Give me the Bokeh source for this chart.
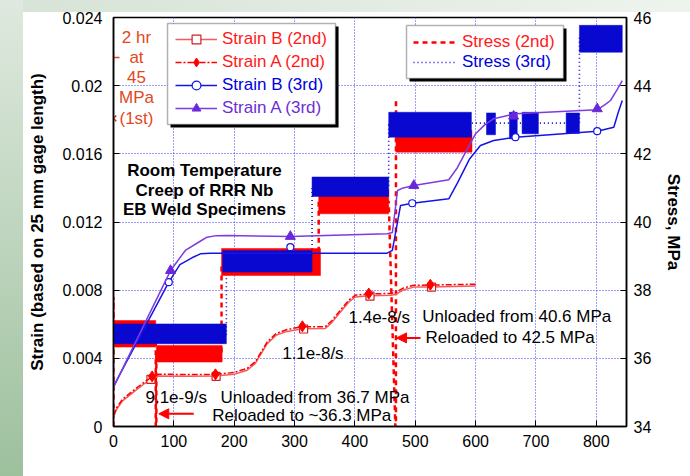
from bokeh.plotting import figure
from bokeh.models import (Range1d, LinearAxis, FixedTicker, CustomJSTickFormatter, Legend,
                          LegendItem, BoxAnnotation, Label, Arrow, NormalHead)
from bokeh.embed import file_html
from bokeh.resources import INLINE

# ---------------- data ----------------
time_ticks = [0, 100, 200, 300, 400, 500, 600, 700, 800]
strain_ticks = [0, 0.004, 0.008, 0.012, 0.016, 0.02, 0.024]
stress_ticks = [34, 36, 38, 40, 42, 44, 46]

# Strain A (2nd) - red dash-dot with filled diamonds
strainA2_t = [0, 5, 15, 33.6, 50, 64, 75, 120, 169, 200, 221.5, 235, 254.7, 270, 287.8, 312.7,
              351, 362, 376, 390, 401, 423, 460, 467, 480, 497.6, 525, 600]
strainA2_s = [0.00065, 0.0011, 0.0016, 0.00213, 0.00258, 0.00292, 0.00307, 0.00305, 0.00306,
              0.00317, 0.00341, 0.0038, 0.00497, 0.00547, 0.00569, 0.00586, 0.00586, 0.00622,
              0.00683, 0.00742, 0.00771, 0.00778, 0.00781, 0.00785, 0.00812, 0.00829, 0.0083, 0.00835]
strainA2_mt = [64, 169, 313, 423, 525]
strainA2_ms = [0.00294, 0.00306, 0.00588, 0.0078, 0.00832]

# Strain B (2nd) - light red solid with open squares
strainB2_t = [0, 5, 15, 33.6, 50, 64, 75, 120, 169, 200, 221.5, 235, 254.7, 270, 287.8, 312.7,
              351, 362, 376, 390, 401, 423, 460, 467, 480, 497.6, 525, 600]
strainB2_s = [0.00055, 0.001, 0.0015, 0.00203, 0.00248, 0.0028, 0.00296, 0.00295, 0.00296,
              0.00306, 0.0033, 0.0037, 0.00486, 0.00537, 0.00558, 0.00574, 0.00575, 0.00611,
              0.00672, 0.00731, 0.0076, 0.00767, 0.0077, 0.00774, 0.00801, 0.00818, 0.00819, 0.00825]
strainB2_mt = [62, 170, 315, 425, 527]
strainB2_ms = [0.00276, 0.00294, 0.00572, 0.00765, 0.00818]

# Strain B (3rd) - blue with open circles
strainB3_t = [0, 91.6, 110, 130, 144, 160, 293, 453.5, 462, 468, 475.6, 495, 555.6, 570, 590,
              608, 630, 666, 801.5, 829, 836, 843]
strainB3_s = [0.00235, 0.00847, 0.0095, 0.0099, 0.01013, 0.01017, 0.01017, 0.01017, 0.01033,
              0.0115, 0.01297, 0.0131, 0.01336, 0.0143, 0.0157, 0.01649, 0.01678, 0.01698,
              0.01733, 0.01756, 0.0184, 0.01913]
strainB3_mt = [91.6, 293, 495, 666, 801.5]
strainB3_ms = [0.00847, 0.01052, 0.0131, 0.01698, 0.01733]

# Strain A (3rd) - purple with filled triangles
strainA3_t = [0, 94.5, 119, 145, 155, 170, 188, 293, 453.5, 462, 466, 470.6, 480, 497.6, 555.6,
              570, 585, 600, 615, 630, 666, 801.5, 815, 823.5, 835, 843]
strainA3_s = [0.0023, 0.00915, 0.01033, 0.0109, 0.01111, 0.0112, 0.01121, 0.01115, 0.01131,
              0.01138, 0.0125, 0.01385, 0.014, 0.01414, 0.01448, 0.0152, 0.0162, 0.01718,
              0.0177, 0.01806, 0.01835, 0.01858, 0.0189, 0.01913, 0.0198, 0.0203]
strainA3_mt = [94.5, 293, 497.6, 663, 801.5]
strainA3_ms = [0.00915, 0.01115, 0.01414, 0.01821, 0.01864]

# Stress (2nd): load history and scatter bands (MPa)
stress2_t = [0, 0, 0, 70, 70, 71, 71, 179, 179, 340, 340, 456, 467, 468, 468, 469, 594]
stress2_v = [34, 37.8, 36.7, 36.7, 34, 34, 36.1, 36.1, 38.8, 38.8, 40.6, 40.6, 34, 34, 43.6, 42.4, 42.4]
stress2_band_start = [0, 71, 179, 340, 468]
stress2_band_end = [70, 180, 343, 456, 594]
stress2_band_low = [36.33, 35.89, 38.43, 40.24, 42.05]
stress2_band_high = [37.11, 36.38, 39.22, 40.95, 42.69]

# Stress (3rd)
stress3_t = [0, 0, 187, 187, 329, 329, 456, 456, 593, 618, 704, 772, 772, 843]
stress3_v = [34, 36.7, 36.7, 38.85, 38.85, 41.05, 41.05, 42.85, 42.9, 42.9, 42.9, 42.9, 45.4, 45.4]
stress3_band_start = [0, 181, 329, 456, 618, 656, 677, 750, 772]
stress3_band_end = [187, 329, 456, 593, 633, 669, 704, 772, 843]
stress3_band_low = [36.43, 38.53, 40.75, 42.49, 42.56, 42.44, 42.59, 42.6, 44.98]
stress3_band_high = [37.01, 39.16, 41.32, 43.22, 43.2, 43.22, 43.22, 43.2, 45.77]

# 1st test: 2 hr at 45 MPa
first_t = [0]
first_plus = [44.83]
first_x = [43.04]

# ---------------- styles ----------------
FONT = "Liberation Sans"
RED = "#ff0000"
RED_LIGHT = "#f25c5c"
BLUE = "#1414e6"
BLUE_BAND = "#0808d0"
PURPLE = "#7d3ce0"
ORANGE = "#e2481c"
GRID = "#3a3aff"

p = figure(width=690, height=476, x_range=Range1d(0, 850), y_range=Range1d(0, 0.024),
           output_backend="svg", toolbar_location=None,
           min_border_left=113, min_border_right=64, min_border_top=17, min_border_bottom=50)
p.extra_y_ranges = {"stress": Range1d(34, 46)}
p.border_fill_color = None
p.background_fill_color = "white"
p.outline_line_color = "black"
p.outline_line_width = 1.5
p.styles = {
    "background": "linear-gradient(to bottom, #dfe9df, #9dc09d) no-repeat left top / 23px 100%, "
                  "linear-gradient(to right, #d6e3d6, #eef3ee) no-repeat left top / 100% 12px, white"
}

# axes
xa = p.xaxis[0]
xa.ticker = FixedTicker(ticks=time_ticks)
ya = p.yaxis[0]
ya.ticker = FixedTicker(ticks=strain_ticks)
ya.formatter = CustomJSTickFormatter(code="return tick == 0 ? '0' : String(parseFloat(tick.toFixed(3)));")
ya.axis_label = "Strain (based on 25 mm gage length)"
ya.axis_label_standoff = 12

ra = LinearAxis(y_range_name="stress", ticker=FixedTicker(ticks=stress_ticks),
                axis_label="Stress, MPa")
ra.axis_label_standoff = 10
p.add_layout(ra, "right")

for ax in (xa, ya, ra):
    ax.axis_line_color = "black"
    ax.axis_line_width = 1.5
    ax.major_tick_in = 6
    ax.major_tick_out = 0
    ax.major_tick_line_color = "black"
    ax.minor_tick_line_color = None
    ax.major_label_text_font = FONT
    ax.major_label_text_font_size = "16px"
    ax.major_label_text_color = "black"
    ax.axis_label_text_font = FONT
    ax.axis_label_text_font_size = "17px"
    ax.axis_label_text_font_style = "bold"
    ax.axis_label_text_color = "black"
xa.major_label_standoff = 8
ya.major_label_standoff = 11
ra.major_label_standoff = 7

for g in (p.xgrid[0], p.ygrid[0]):
    g.grid_line_color = GRID
    g.grid_line_dash = "1 2"
    g.grid_line_width = 1

# stress histories (drawn under the scatter bands)
r_s2 = p.line(stress2_t, stress2_v, y_range_name="stress", line_color=RED, line_width=2.5,
              line_dash="5 4")
r_s3 = p.line(stress3_t, stress3_v, y_range_name="stress", line_color=BLUE_BAND, line_width=1.6,
              line_dash="1 3")
p.quad(left=stress2_band_start, right=stress2_band_end, bottom=stress2_band_low,
       top=stress2_band_high, y_range_name="stress", fill_color=RED, line_color=RED, line_width=0.5)
p.quad(left=stress3_band_start, right=stress3_band_end, bottom=stress3_band_low,
       top=stress3_band_high, y_range_name="stress", fill_color=BLUE_BAND, line_color=BLUE_BAND,
       line_width=0.5)

# strain curves
r_b2 = p.line(strainB2_t, strainB2_s, line_color=RED_LIGHT, line_width=1.5)
r_b2m = p.scatter(strainB2_mt, strainB2_ms, marker="square", size=8, fill_color="white",
                  line_color="#d02020", line_width=1.2)
r_a2 = p.line(strainA2_t, strainA2_s, line_color=RED, line_width=1.5, line_dash="6 2 2 2")
r_a2m = p.scatter(strainA2_mt, strainA2_ms, marker="diamond", size=11, fill_color=RED,
                  line_color=RED)
r_b3 = p.line(strainB3_t, strainB3_s, line_color=BLUE, line_width=1.5)
r_b3m = p.scatter(strainB3_mt, strainB3_ms, marker="circle", size=7, fill_color="white",
                  line_color=BLUE, line_width=1.2)
r_a3 = p.line(strainA3_t, strainA3_s, line_color=PURPLE, line_width=1.5)
r_a3m = p.scatter(strainA3_mt, strainA3_ms, marker="triangle", size=10, fill_color="#6a28d8",
                  line_color="#6a28d8")

# 1st test markers
p.scatter(first_t, first_plus, y_range_name="stress", marker="cross", size=12,
          line_color=ORANGE, line_width=1.5)
p.scatter(first_t, first_x, y_range_name="stress", marker="x", size=8,
          line_color="#c83030", line_width=1.5)

# legend frames (shadow + box)
p.add_layout(BoxAnnotation(left=94.5, right=372.9, top=0.023472, bottom=0.017545,
                           fill_color="black", fill_alpha=1, line_color=None))
p.add_layout(BoxAnnotation(left=89.5, right=367.9, top=0.023648, bottom=0.017721,
                           fill_color="white", fill_alpha=1, line_color="black", line_width=1.5))
p.add_layout(BoxAnnotation(left=490.5, right=750.6, top=0.023355, bottom=0.020244,
                           fill_color="black", fill_alpha=1, line_color=None))
p.add_layout(BoxAnnotation(left=485.5, right=745.7, top=0.02353, bottom=0.02042,
                           fill_color="white", fill_alpha=1, line_color="black", line_width=1.5))


def one_item_legend(label, renderers, color, x, y, gw):
    lg = Legend(items=[LegendItem(label=label, renderers=renderers)], location=(x, y),
                padding=0, margin=0, spacing=0, border_line_color=None,
                background_fill_alpha=0, glyph_width=gw, glyph_height=22, label_height=22,
                label_standoff=5, label_text_font=FONT, label_text_font_size="17px",
                label_text_color=color)
    p.add_layout(lg, "center")


one_item_legend("Strain B (2nd)", [r_b2, r_b2m], "#ff1a1a", 62, 376, 42)
one_item_legend("Strain A (2nd)", [r_a2, r_a2m], "#ff1a1a", 62, 353, 42)
one_item_legend("Strain B (3rd)", [r_b3, r_b3m], "#0000dd", 62, 330, 42)
one_item_legend("Strain A (3rd)", [r_a3, r_a3m], "#6c2ed8", 62, 307, 42)
one_item_legend("Stress (2nd)", [r_s2], "#ff1a1a", 300, 373, 44)
one_item_legend("Stress (3rd)", [r_s3], "#0000dd", 300, 353, 44)

# text annotations
def txt(x, y, s, color="black", align="left", bold=False, **kw):
    p.add_layout(Label(x=x, y=y, text=s, text_font=FONT, text_font_size="17px",
                       text_color=color, text_align=align, text_baseline="middle",
                       text_font_style="bold" if bold else "normal", **kw))


for yy, s in zip([0.015022, 0.013848, 0.012716],
                 ["Room Temperature", "Creep of RRR Nb", "EB Weld Specimens"]):
    txt(150.8, yy, s, align="center", bold=True)

for yy, s in zip([0.022844, 0.02167, 0.020497, 0.019288, 0.018056],
                 ["2 hr", "at", "45", "MPa", "(1st)"]):
    txt(38.1, yy, s, color=ORANGE, align="center")

txt(53.0, 0.00172, "9.1e-9/s")
txt(177.3, 0.00172, "Unloaded from 36.7 MPa")
txt(163.5, 0.000645, "Reloaded to ~36.3 MPa")
txt(279.5, 0.004266, "1.1e-8/s")
txt(389.4, 0.006414, "1.4e-8/s")
txt(511.5, 0.006455, "Unloaded from 40.6 MPa")
txt(517.0, 0.005205, "Reloaded to 42.5 MPa")
txt(447.4, -0.0024, "Time, hr", align="center", bold=True)

for xs, xe, yy in [(133.0, 75.0, 0.000745), (508.7, 469.0, 0.0052)]:
    p.add_layout(Arrow(end=NormalHead(size=10, fill_color=RED, line_color=RED),
                       x_start=xs, y_start=yy, x_end=xe, y_end=yy,
                       line_color=RED, line_width=2))

open("out.html", "w").write(file_html(p, INLINE))
